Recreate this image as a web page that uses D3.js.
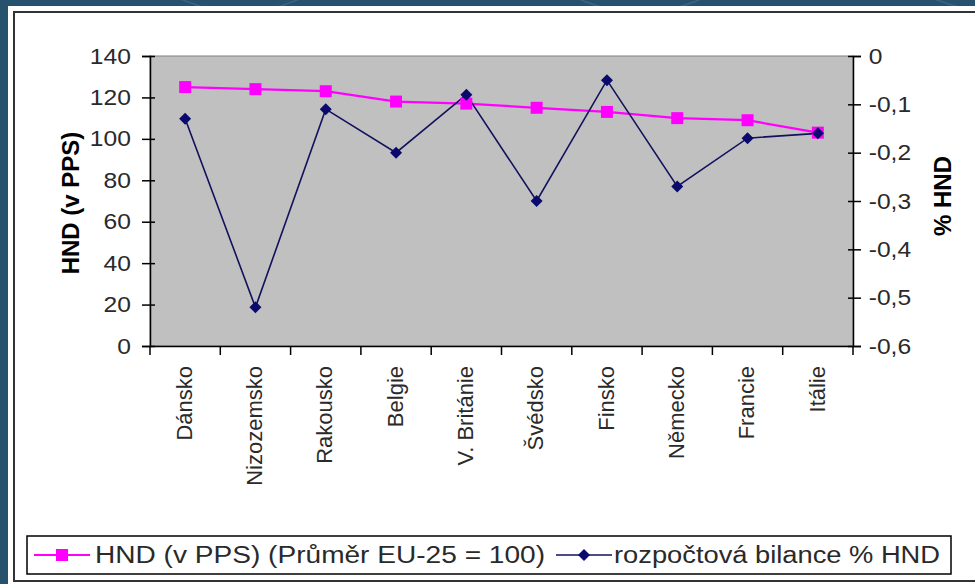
<!DOCTYPE html>
<html>
<head>
<meta charset="utf-8">
<script src="https://cdn.jsdelivr.net/npm/d3@7"></script>
<style>
  body { margin: 0; background: #27526e; }
  svg { display: block; font-family: "Liberation Sans", Arial, sans-serif; }
</style>
</head>
<body>
<div id="chart"></div>
<script>
// data
const countries = ["Dánsko", "Nizozemsko", "Rakousko", "Belgie", "V. Británie",
                   "Švédsko", "Finsko", "Německo", "Francie", "Itálie"];
const hndPPS = [125, 124, 123, 118, 117, 115, 113, 110, 109, 103];
const bilance = [-0.13, -0.52, -0.11, -0.20, -0.08, -0.30, -0.05, -0.27, -0.17, -0.16];
const leftTicks = [0, 20, 40, 60, 80, 100, 120, 140];
const rightTicks = [0, -0.1, -0.2, -0.3, -0.4, -0.5, -0.6];
const seriesNames = ["HND (v PPS) (Průměr EU-25 = 100)", "rozpočtová bilance % HND"];

const width = 975, height = 584;
const margin = { top: 56, right: 122, bottom: 238, left: 150 };
const bottomY = height - margin.bottom;

const svg = d3.select("#chart")
  .append("svg")
  .attr("width", width)
  .attr("height", height);

// blue frame with a few faint arcs
svg.append("rect").attr("width", width).attr("height", height).attr("fill", "#27526e");
[[240, 140], [640, 150], [1000, 170]].forEach(a => {
  svg.append("circle")
    .attr("cx", a[0]).attr("cy", -a[1] + 12)
    .attr("r", a[1])
    .attr("fill", "none")
    .attr("stroke", "#4a7391")
    .attr("stroke-width", 1.5)
    .attr("opacity", 0.6);
});

// white panel
svg.append("rect")
  .attr("x", 8).attr("y", 6)
  .attr("width", width).attr("height", height)
  .attr("fill", "#ffffff");
svg.append("rect")
  .attr("x", 14).attr("y", 12)
  .attr("width", width + 20).attr("height", 569)
  .attr("fill", "none")
  .attr("stroke", "#333")
  .attr("stroke-width", 2);

// scales
const x = d3.scaleBand()
  .domain(countries)
  .range([margin.left, width - margin.right]);

const yL = d3.scaleLinear()
  .domain([0, 140])
  .range([bottomY, margin.top]);

const yR = d3.scaleLinear()
  .domain([-0.6, 0])
  .range([bottomY, margin.top]);

const cz = d3.formatLocale({ decimal: ",", thousands: " ", grouping: [3], currency: ["", " Kč"], minus: "-" });
const fmtR = d => d === 0 ? "0" : cz.format(".1f")(d);

// plot area
svg.append("rect")
  .attr("x", margin.left).attr("y", margin.top)
  .attr("width", width - margin.right - margin.left)
  .attr("height", bottomY - margin.top)
  .attr("fill", "#c0c0c0")
  .attr("stroke", "#808080");

// left axis
const gL = svg.append("g")
  .attr("transform", `translate(${margin.left},0)`)
  .call(d3.axisLeft(yL).tickValues(leftTicks).tickSize(8).tickPadding(9));
gL.selectAll(".tick line").attr("x1", 5);
gL.selectAll("text")
  .style("font-size", "22px")
  .attr("fill", "#2a2a2a")
  .attr("transform", "scale(1.12,1)");
gL.selectAll("path, line").attr("stroke", "#000").attr("stroke-width", 1.5);

// right axis
const gR = svg.append("g")
  .attr("transform", `translate(${width - margin.right},0)`)
  .call(d3.axisRight(yR).tickValues(rightTicks).tickFormat(fmtR).tickSize(8).tickPadding(6));
gR.selectAll(".tick line").attr("x1", -5);
gR.selectAll("text")
  .style("font-size", "22px")
  .attr("fill", "#2a2a2a")
  .attr("transform", "scale(1.12,1)");
gR.selectAll("path, line").attr("stroke", "#000").attr("stroke-width", 1.5);

// bottom axis: labels at centers, ticks at category edges
const gB = svg.append("g")
  .attr("transform", `translate(0,${bottomY})`)
  .call(d3.axisBottom(x).tickSize(0).tickPadding(0));
gB.selectAll("path").attr("stroke", "#000").attr("stroke-width", 1.5);
gB.selectAll("text")
  .style("font-size", "22px")
  .attr("fill", "#2a2a2a")
  .attr("transform", "rotate(-90)")
  .attr("text-anchor", "end")
  .attr("dy", "0.35em")
  .attr("x", -20)
  .attr("y", -1);

const edges = countries.map(c => x(c)).concat([x.range()[1]]);
gB.selectAll(".edge")
  .data(edges)
  .enter()
  .append("line")
  .attr("x1", d => d).attr("x2", d => d)
  .attr("y1", 0).attr("y2", 9)
  .attr("stroke", "#000")
  .attr("stroke-width", 1.5);

// axis titles
svg.append("text")
  .attr("transform", `translate(71,203) rotate(-90)`)
  .attr("text-anchor", "middle")
  .attr("dy", "0.35em")
  .style("font-size", "24px")
  .style("font-weight", "bold")
  .text("HND (v PPS)");

svg.append("text")
  .attr("transform", `translate(943,196) rotate(-90)`)
  .attr("text-anchor", "middle")
  .attr("dy", "0.35em")
  .style("font-size", "24px")
  .style("font-weight", "bold")
  .text("% HND");

const cx = c => x(c) + x.bandwidth() / 2;

// HND series
const lineL = d3.line()
  .x((d, i) => cx(countries[i]))
  .y(d => yL(d));

svg.append("path")
  .datum(hndPPS)
  .attr("d", lineL)
  .attr("fill", "none")
  .attr("stroke", "#ff00ff")
  .attr("stroke-width", 2.2);

// budget balance series
const lineR = d3.line()
  .x((d, i) => cx(countries[i]))
  .y(d => yR(d));

svg.append("path")
  .datum(bilance)
  .attr("d", lineR)
  .attr("fill", "none")
  .attr("stroke", "#11115e")
  .attr("stroke-width", 1.6);

const square = d3.symbol(d3.symbolSquare, 144);
const diamond = d3.symbol(d3.symbolSquare, 72);

svg.selectAll(".sq")
  .data(hndPPS)
  .enter()
  .append("path")
  .attr("d", square)
  .attr("transform", (d, i) => `translate(${cx(countries[i])},${yL(d)})`)
  .attr("fill", "#ff00ff");

svg.selectAll(".dm")
  .data(bilance)
  .enter()
  .append("path")
  .attr("d", diamond)
  .attr("transform", (d, i) => `translate(${cx(countries[i])},${yR(d)}) rotate(45)`)
  .attr("fill", "#0a0a6e");

// legend
const legend = svg.append("g");
legend.append("rect")
  .attr("x", 27).attr("y", 536)
  .attr("width", 924).attr("height", 38)
  .attr("fill", "#fff")
  .attr("stroke", "#000")
  .attr("stroke-width", 1.5);

const legY = 555;
const legItems = [
  { x: 34, color: "#ff00ff", mark: "#ff00ff", w: 2.2, sym: square, rot: 0, name: seriesNames[0], textX: 95, len: 450 },
  { x: 556, color: "#11115e", mark: "#0a0a6e", w: 1.6, sym: diamond, rot: 45, name: seriesNames[1], textX: 614, len: 326 }
];
legItems.forEach(it => {
  legend.append("line")
    .attr("x1", it.x).attr("x2", it.x + 56)
    .attr("y1", legY).attr("y2", legY)
    .attr("stroke", it.color)
    .attr("stroke-width", it.w);
  legend.append("path")
    .attr("d", it.sym)
    .attr("transform", `translate(${it.x + 28},${legY}) rotate(${it.rot})`)
    .attr("fill", it.mark);
  legend.append("text")
    .attr("x", it.textX).attr("y", legY)
    .attr("dy", "0.36em")
    .attr("textLength", it.len)
    .attr("lengthAdjust", "spacingAndGlyphs")
    .style("font-size", "23px")
    .attr("fill", "#2a2a2a")
    .text(it.name);
});
</script>
</body>
</html>
